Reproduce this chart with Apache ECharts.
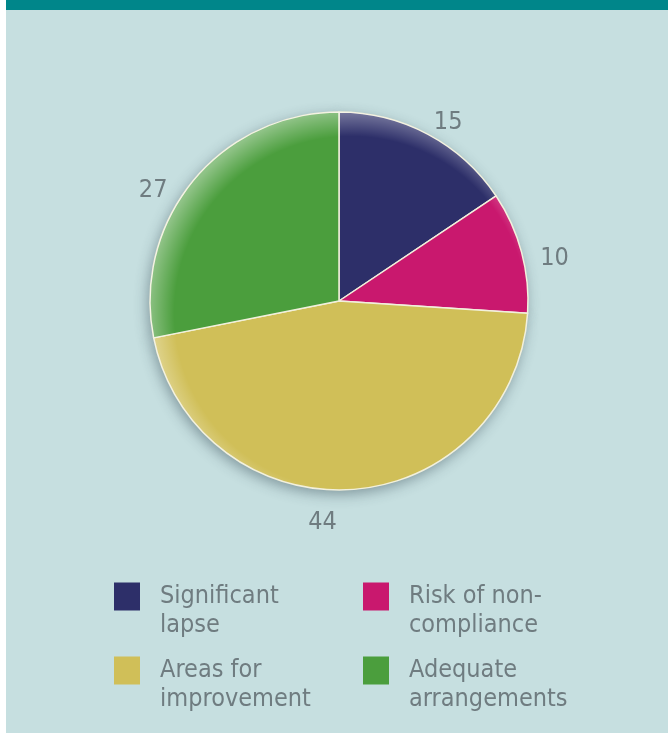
<!DOCTYPE html>
<html>
<head>
<meta charset="utf-8">
<script src="https://cdn.jsdelivr.net/npm/echarts@6/dist/echarts.min.js"></script>
<style>
html,body{margin:0;padding:0;background:#fff;}
#c{width:668px;height:733px;}
</style>
</head>
<body>
<div id="c"></div>
<script>
const categories = ['Significant lapse', 'Risk of non-compliance', 'Areas for improvement', 'Adequate arrangements'];
const legendText = ['Significant\nlapse', 'Risk of non-\ncompliance', 'Areas for\nimprovement', 'Adequate\narrangements'];
const values = [15, 10, 44, 27];
const colors = ['#2d2f69', '#c9186e', '#d0bf58', '#4b9e3d'];

const FONT = '"Liberation Sans Narrow", "DejaVu Sans Condensed", "Roboto", sans-serif';
const TXT = '#6f7c80';
// small label nudges (style only)
const LABEL_NUDGE = [[5, 16], [2, 15], [-31, 1], [-15, 30]];

const pieData = categories.map((c, i) => ({ name: c, value: values[i], itemStyle: { color: colors[i] } }));
const labelFmt = {};
categories.forEach((c, i) => labelFmt[c] = ' \n' + legendText[i]);

const chart = echarts.init(document.getElementById('c'), null, { renderer: 'canvas' });
const center = [339, 301];
const legendCommon = {
  orient: 'horizontal', left: 114, padding: 0, itemWidth: 26, itemHeight: 28, itemGap: 23,
  icon: 'rect', selectedMode: false,
  itemStyle: { borderWidth: 0 },
  formatter: n => labelFmt[n],
  textStyle: { fontFamily: FONT, fontSize: 25, color: TXT, lineHeight: 29, width: 180, padding: [0, 0, 0, 15] }
};
chart.setOption({
  backgroundColor: '#c6dfe0',
  animation: false,
  graphic: [
    { type: 'rect', left: 0, top: 0, shape: { width: 668, height: 10 }, style: { fill: '#00868a' }, z: 100 },
    { type: 'rect', left: 0, top: 0, shape: { width: 6, height: 733 }, style: { fill: '#ffffff' }, z: 101 }
  ],
  legend: [
    Object.assign({}, legendCommon, { top: 553, data: categories.slice(0, 2) }),
    Object.assign({}, legendCommon, { top: 627, data: categories.slice(2, 4) })
  ],
  series: [
    {
      type: 'pie', center: center, radius: [0, 189], startAngle: 90, clockwise: true,
      silent: true, z: 1, legendHoverLink: false,
      data: values.map((v, i) => ({ name: '_s' + i, value: v })),
      itemStyle: { color: '#b9cfd0', shadowBlur: 14, shadowColor: 'rgba(40,60,70,0.45)', shadowOffsetX: -2, shadowOffsetY: 4 },
      label: { show: false }, labelLine: { show: false }
    },
    {
      type: 'pie', center: center, radius: [0, 189], startAngle: 90, clockwise: true,
      z: 2, data: pieData,
      itemStyle: { borderColor: '#f2f0dc', borderWidth: 1.5 },
      label: { show: false }, labelLine: { show: false },
      emphasis: { disabled: true }
    },
    {
      type: 'pie', center: center, radius: [0, 189], startAngle: 90, clockwise: true,
      silent: true, z: 3,
      data: values.map((v, i) => ({ name: '_h' + i, value: v })),
      itemStyle: {
        color: { type: 'radial', x: 351, y: 313, r: 203, global: true,
          colorStops: [{ offset: 0, color: 'rgba(255,255,255,0)' }, { offset: 0.87, color: 'rgba(255,255,255,0)' }, { offset: 1, color: 'rgba(255,255,255,0.38)' }] }
      },
      label: { show: false }, labelLine: { show: false }
    },
    {
      type: 'pie', center: center, radius: [200, 236], startAngle: 90, clockwise: true,
      silent: true, z: 4,
      data: values.map((v, i) => ({ name: '_l' + i, value: v, label: { offset: LABEL_NUDGE[i] } })),
      itemStyle: { color: 'rgba(0,0,0,0)' },
      label: { show: true, position: 'inside', formatter: p => String(p.value), fontFamily: FONT, fontSize: 25, color: TXT },
      labelLine: { show: false }
    }
  ]
});
</script>
</body>
</html>
